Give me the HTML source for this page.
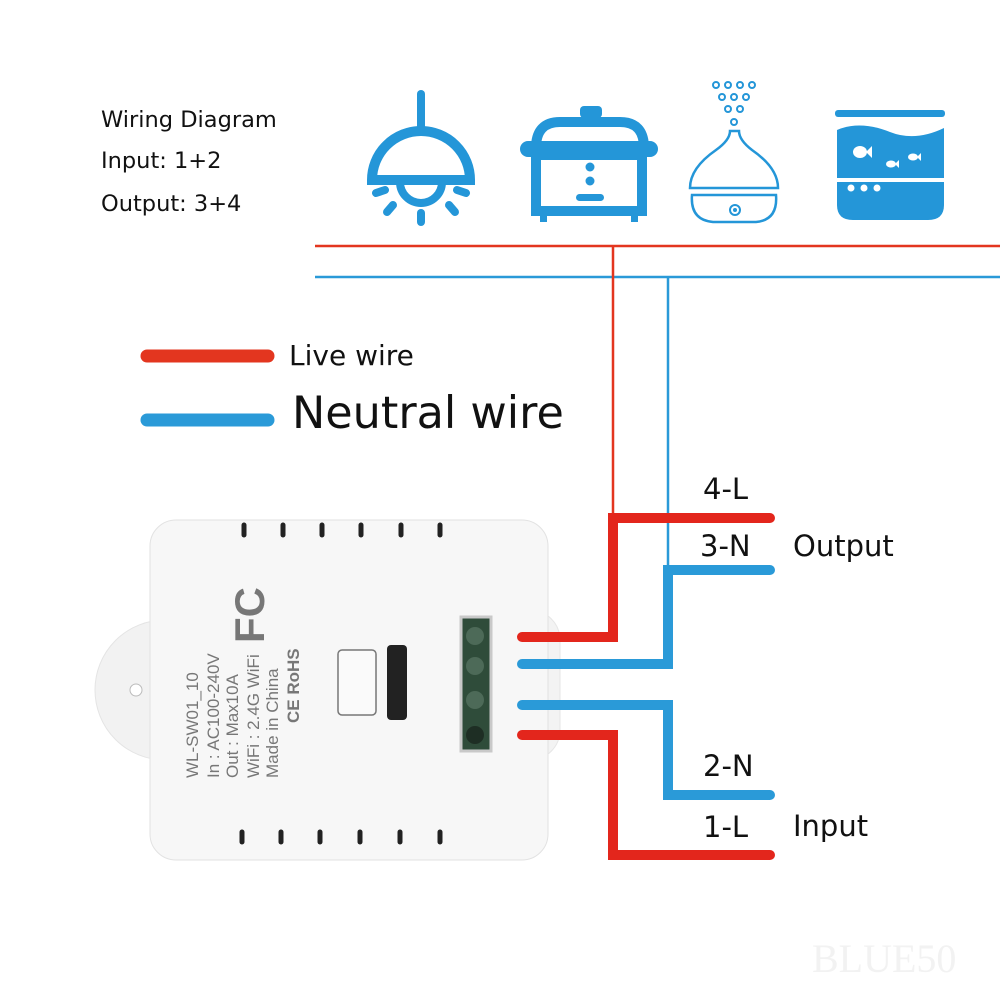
<!DOCTYPE html>
<html><head><meta charset="utf-8"><style>
body{margin:0;width:1000px;height:1000px;background:#fff;overflow:hidden;font-family:"DejaVu Sans",sans-serif;position:relative}
.t{position:absolute;color:#111;white-space:nowrap}
</style></head><body>
<div class="t" style="left:101px;top:107px;font-size:22.5px">Wiring Diagram</div>
<div class="t" style="left:101px;top:148px;font-size:22.5px">Input: 1+2</div>
<div class="t" style="left:101px;top:191px;font-size:22.5px">Output: 3+4</div>
<div class="t" style="left:289px;top:339px;font-size:28px">Live wire</div>
<div class="t" style="left:292px;top:388px;font-size:44.5px">Neutral wire</div>
<div class="t" style="left:703px;top:472px;font-size:29px">4-L</div>
<div class="t" style="left:700px;top:529px;font-size:29px">3-N</div>
<div class="t" style="left:793px;top:529px;font-size:29px">Output</div>
<div class="t" style="left:703px;top:749px;font-size:29px">2-N</div>
<div class="t" style="left:703px;top:810px;font-size:29px">1-L</div>
<div class="t" style="left:793px;top:809px;font-size:29px">Input</div>
<div class="t" style="left:812px;top:935px;font-size:40px;color:#f2f2f2;font-family:'Liberation Serif',serif">BLUE50</div>
<svg width="1000" height="1000" style="position:absolute;left:0;top:0" xmlns="http://www.w3.org/2000/svg">
<g fill="#2496d8" stroke="#2496d8">
<rect x="417" y="90" width="8" height="45" rx="4" stroke="none"/>
<path d="M372 180 A49 49 0 0 1 470 180 Z" fill="none" stroke-width="10"/>
<path d="M400 182 A21 21 0 0 0 442 182" fill="none" stroke-width="8"/>
<g stroke-width="8" stroke-linecap="round">
<line x1="376" y1="193" x2="385" y2="190"/><line x1="457" y1="190" x2="466" y2="193"/>
<line x1="387" y1="212" x2="393" y2="205"/><line x1="421" y1="213" x2="421" y2="222"/><line x1="449" y1="205" x2="455" y2="212"/>
</g>
<rect x="580" y="106" width="22" height="12" rx="4" stroke="none"/>
<path d="M536 148 Q536 122 560 122 L620 122 Q644 122 644 148" fill="none" stroke-width="10"/>
<rect x="520" y="141" width="138" height="16" rx="8" stroke="none"/>
<rect x="536" y="155" width="106" height="56" fill="none" stroke-width="10"/>
<rect x="540" y="212" width="7" height="10" stroke="none"/><rect x="631" y="212" width="7" height="10" stroke="none"/>
<circle cx="590" cy="167" r="4.5" stroke="none"/><circle cx="590" cy="181" r="4.5" stroke="none"/>
<rect x="576" y="194" width="28" height="7" rx="3.5" stroke="none"/>
<g fill="none" stroke-width="2">
<circle cx="716" cy="85" r="3"/><circle cx="728" cy="85" r="3"/><circle cx="740" cy="85" r="3"/><circle cx="752" cy="85" r="3"/>
<circle cx="722" cy="97" r="3"/><circle cx="734" cy="97" r="3"/><circle cx="746" cy="97" r="3"/>
<circle cx="728" cy="109" r="3"/><circle cx="740" cy="109" r="3"/>
<circle cx="734" cy="122" r="3"/>
<path d="M730 131 L739 131 Q739 140 752 150 Q778 168 778 188 L690 188 Q690 168 716 150 Q730 140 730 131 Z" stroke-width="2.5"/>
<path d="M692 195 L776 195 Q778 220 756 222 L713 222 Q690 220 692 195 Z" stroke-width="2.5"/>
<circle cx="735" cy="210" r="5"/>
</g>
<circle cx="735" cy="210" r="2" stroke="none"/>
<rect x="835" y="110" width="110" height="7" rx="3" stroke="none"/>
<path d="M837 130 Q860 120 890 132 Q915 142 944 128 L944 178 L837 178 Z" stroke="none"/>
<path d="M837 182 L944 182 L944 205 Q944 220 928 220 L853 220 Q837 220 837 205 Z" stroke="none"/>
<g fill="#fff" stroke="none">
<ellipse cx="860" cy="152" rx="7" ry="6"/><path d="M866 152 L872 146 L872 158 Z"/>
<ellipse cx="891" cy="164" rx="5" ry="3.5"/><path d="M895 164 L899 160 L899 168 Z"/>
<ellipse cx="913" cy="157" rx="5" ry="3.5"/><path d="M917 157 L921 153 L921 161 Z"/>
<circle cx="851" cy="188" r="3.5"/><circle cx="864" cy="188" r="3.5"/><circle cx="877" cy="188" r="3.5"/>
</g>
</g>
<line x1="315" y1="246" x2="1000" y2="246" stroke="#e3361f" stroke-width="2.5"/>
<line x1="315" y1="277" x2="1000" y2="277" stroke="#2a9ad8" stroke-width="2.5"/>
<line x1="613" y1="246" x2="613" y2="518" stroke="#e3361f" stroke-width="2.5"/>
<line x1="668" y1="277" x2="668" y2="570" stroke="#2a9ad8" stroke-width="2.5"/>
<line x1="147" y1="356" x2="268" y2="356" stroke="#e3361f" stroke-width="13" stroke-linecap="round"/>
<line x1="147" y1="420" x2="268" y2="420" stroke="#2a9ad8" stroke-width="13" stroke-linecap="round"/>
<g>
<path d="M165 620 A70 70 0 0 0 165 760 Z" fill="#f2f2f2" stroke="#e4e4e4"/>
<rect x="500" y="610" width="60" height="150" rx="30" fill="#f3f3f3" stroke="#e6e6e6"/>
<rect x="150" y="520" width="398" height="340" rx="26" fill="#f7f7f7" stroke="#e2e2e2"/>
<circle cx="136" cy="690" r="6" fill="#fff" stroke="#bbb"/>
<g stroke="#222" stroke-width="5" stroke-linecap="round">
<line x1="244" y1="525" x2="244" y2="535"/><line x1="283" y1="525" x2="283" y2="535"/><line x1="322" y1="525" x2="322" y2="535"/><line x1="361" y1="525" x2="361" y2="535"/><line x1="401" y1="525" x2="401" y2="535"/><line x1="440" y1="525" x2="440" y2="535"/>
<line x1="242" y1="832" x2="242" y2="842"/><line x1="281" y1="832" x2="281" y2="842"/><line x1="320" y1="832" x2="320" y2="842"/><line x1="360" y1="832" x2="360" y2="842"/><line x1="400" y1="832" x2="400" y2="842"/><line x1="440" y1="832" x2="440" y2="842"/>
</g>
<rect x="338" y="650" width="38" height="65" rx="4" fill="#fafafa" stroke="#777" stroke-width="1.5"/>
<rect x="387" y="645" width="20" height="75" rx="4" fill="#222"/>
<rect x="461" y="617" width="30" height="134" fill="#2f4c3a" stroke="#c9c9c9" stroke-width="3"/>
<circle cx="475" cy="636" r="9" fill="#4d6a58"/><circle cx="475" cy="666" r="9" fill="#4d6a58"/><circle cx="475" cy="700" r="9" fill="#4d6a58"/><circle cx="475" cy="735" r="9" fill="#1e2e24"/>
<g transform="translate(198,778) rotate(-90)" font-family="Liberation Sans,sans-serif" font-size="17" fill="#777">
<text x="0" y="0">WL-SW01_10</text>
<text x="0" y="21">In : AC100-240V</text>
<text x="0" y="40">Out : Max10A</text>
<text x="0" y="61">WiFi : 2.4G WiFi</text>
<text x="0" y="80">Made in China</text>
<text x="55" y="101" font-weight="bold">CE  RoHS</text>
<text x="135" y="66" font-size="42" font-weight="bold">FC</text>
</g>
</g>
<g fill="none" stroke-width="10" stroke-linecap="round">
<path d="M522 637 L613 637 L613 518 L770 518" stroke="#e3261c"/>
<path d="M522 664 L668 664 L668 570 L770 570" stroke="#2a9ad8"/>
<path d="M522 705 L668 705 L668 795 L770 795" stroke="#2a9ad8"/>
<path d="M522 735 L613 735 L613 855 L770 855" stroke="#e3261c"/>
</g>
</svg>
</body></html>
